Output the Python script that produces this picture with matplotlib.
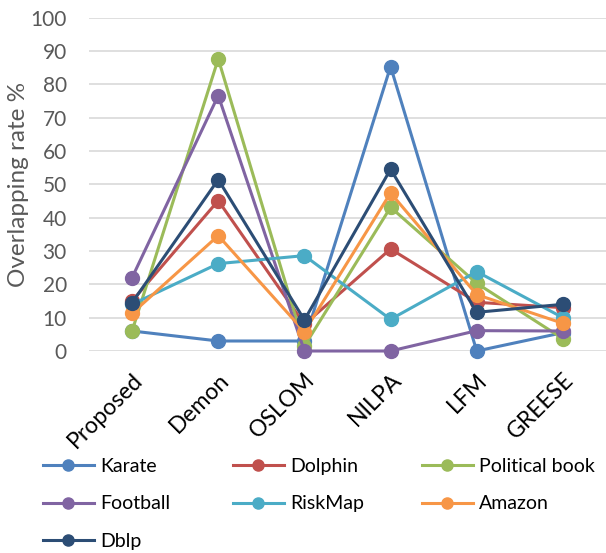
import matplotlib.pyplot as plt

methods = ['Proposed', 'Demon', 'OSLOM', 'NILPA', 'LFM', 'GREESE']

karate = [6, 3, 3, 85.3, 0, 5.5]
dolphin = [15, 45.1, 8, 30.6, 14.6, 13]
political_book = [6, 87.6, 1.5, 43.1, 20.3, 3.7]
football = [22, 76.6, 0, 0, 6.1, 6]
riskmap = [14, 26.2, 28.6, 9.5, 23.8, 10]
amazon = [11.3, 34.6, 5.8, 47.4, 16.9, 8.3]
dblp = [14.5, 51.4, 9.3, 54.5, 11.6, 14]

names = ['Karate', 'Dolphin', 'Political book', 'Football', 'RiskMap', 'Amazon', 'Dblp']
series = [karate, dolphin, political_book, football, riskmap, amazon, dblp]
colors = ['#4F81BD', '#C0504D', '#9BBB59', '#8064A2', '#4BACC6', '#F79646', '#2C4D75']

plt.rcParams['font.family'] = ['Lato', 'DejaVu Sans']

fig = plt.figure(figsize=(6.06, 5.53), dpi=100)
ax = fig.add_axes([89 / 606, 1 - 351 / 553, 1 - 89 / 606, (351 - 17.5) / 553])

x = list(range(len(methods)))
handles = {}
for name, vals, c in zip(names, series, colors):
    h, = ax.plot(x, vals, '-o', color=c, lw=2.2, markersize=10, clip_on=False, label=name)
    handles[name] = h

ax.set_xlim(-0.5, len(methods) - 0.5)
ax.set_ylim(0, 100)
ax.set_yticks(range(0, 101, 10))
ax.yaxis.grid(True, color='#D9D9D9', lw=1.2)
ax.set_axisbelow(True)
for s in ax.spines.values():
    s.set_visible(False)
ax.tick_params(axis='both', length=0)
ax.tick_params(axis='y', labelsize=15, labelcolor='#595959', pad=16)

ax.set_xticks(x)
ax.set_xticklabels(methods, rotation=45, ha='right', rotation_mode='anchor',
                   fontsize=16.5, color='black')
ax.tick_params(axis='x', pad=13)

ax.set_ylabel('Overlapping rate %', fontsize=17.5, color='#595959', labelpad=1)

# three one-column legends so the columns sit where the reference has them
cols = [['Karate', 'Football', 'Dblp'], ['Dolphin', 'RiskMap'], ['Political book', 'Amazon']]
col_x = [43, 233, 422]
for cx, col in zip(col_x, cols):
    fig.legend([handles[n] for n in col], col, ncol=1, frameon=False,
               loc='upper left', bbox_to_anchor=(cx / 606, 1 - 458 / 553),
               borderaxespad=0, borderpad=0,
               fontsize=14, handlelength=2.6, markerscale=0.8,
               labelspacing=1.05, handletextpad=0.35)

fig.savefig('out.png', dpi=100)
